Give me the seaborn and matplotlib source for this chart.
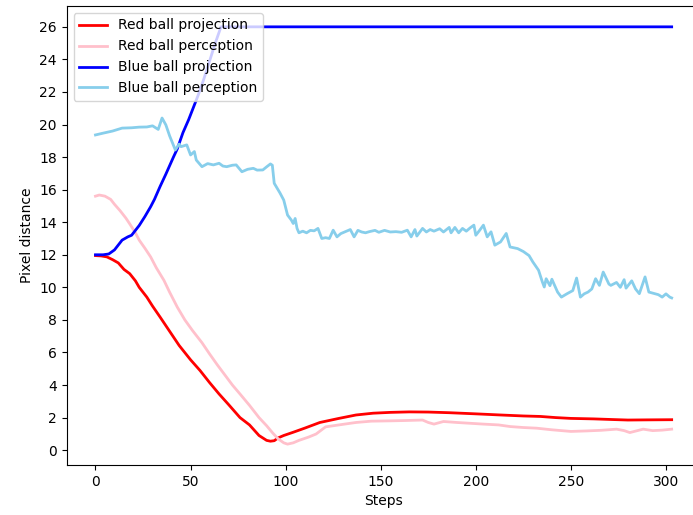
import matplotlib
matplotlib.use("Agg")
import matplotlib.pyplot as plt
import seaborn as sns
import pandas as pd

# Red ball projection
red_proj_steps = [0, 3, 6, 9, 12, 15, 18, 21, 23, 27, 30, 34, 39, 44, 50, 55, 60, 65, 70, 76, 81,
                  86, 90, 92, 94, 96, 99, 104, 110, 118, 128, 137, 146, 155, 165, 175, 186, 200,
                  213, 225, 234, 242, 250, 262, 272, 280, 290, 303]
red_proj_vals = [11.95, 11.93, 11.87, 11.7, 11.5, 11.1, 10.84, 10.4, 10.0, 9.4, 8.85, 8.17, 7.3, 6.43,
                 5.55, 4.89, 4.15, 3.45, 2.8, 2.0, 1.55, 0.9, 0.6, 0.55, 0.58, 0.75, 0.9, 1.1, 1.35,
                 1.7, 1.95, 2.16, 2.27, 2.32, 2.35, 2.34, 2.3, 2.23, 2.16, 2.1, 2.07, 2.0, 1.95,
                 1.92, 1.88, 1.85, 1.86, 1.87]

# Red ball perception
red_perc_steps = [0, 2, 5, 8, 10, 13, 16, 18, 21, 23, 26, 29, 32, 36, 39, 43, 47, 51, 56, 60, 64, 69,
                  72, 76, 81, 86, 90, 93, 96, 99, 101, 104, 107, 112, 116, 121, 128, 137, 145, 155,
                  163, 172, 175, 178, 183, 190, 197, 204, 212, 218, 225, 232, 240, 250, 258, 266,
                  274, 278, 281, 285, 288, 293, 298, 303]
red_perc_vals = [15.6, 15.67, 15.6, 15.4, 15.1, 14.7, 14.25, 13.9, 13.35, 12.9, 12.4, 11.87, 11.2,
                 10.43, 9.7, 8.79, 8.0, 7.35, 6.6, 5.91, 5.25, 4.47, 4.0, 3.45, 2.75, 2.0, 1.5, 1.08,
                 0.7, 0.45, 0.37, 0.45, 0.6, 0.8, 0.99, 1.43, 1.55, 1.7, 1.78, 1.8, 1.82, 1.85, 1.7,
                 1.6, 1.76, 1.7, 1.65, 1.6, 1.55, 1.45, 1.39, 1.35, 1.25, 1.15, 1.18, 1.22, 1.29,
                 1.2, 1.08, 1.2, 1.29, 1.2, 1.23, 1.29]

# Blue ball projection
blue_proj_steps = [0, 4, 7, 10, 14, 17, 19, 21, 23, 26, 29, 31, 34, 37, 41, 43, 46, 49, 51, 54, 57,
                   60, 63, 66, 303]
blue_proj_vals = [12.0, 12.0, 12.05, 12.3, 12.9, 13.1, 13.2, 13.5, 13.8, 14.35, 14.95, 15.4, 16.2,
                  16.95, 18.0, 18.5, 19.5, 20.3, 20.9, 21.8, 22.8, 23.9, 25.0, 26.0, 26.0]

# Blue ball perception
blue_perc_steps = [0, 4, 9, 14, 19, 23, 27, 30, 33, 35, 37, 39, 42, 44, 45, 48, 50, 52, 53, 56, 59,
                   62, 65, 67, 69, 72, 74, 77, 80, 83, 85, 88, 90, 92, 93, 94, 97, 99, 101, 103,
                   104, 105, 106, 107, 109, 111, 113, 115, 117, 119, 121, 123, 125, 127, 129, 131,
                   134, 136, 138, 140, 142, 144, 147, 149, 152, 155, 158, 161, 164, 166, 168, 169,
                   172, 174, 176, 178, 181, 183, 186, 187, 189, 191, 193, 195, 197, 199, 200, 202,
                   204, 206, 208, 210, 213, 216, 218, 222, 225, 228, 230, 233, 235, 236, 237, 239,
                   240, 243, 245, 248, 251, 253, 255, 257, 259, 261, 263, 265, 267, 270, 271, 274,
                   276, 278, 279, 282, 284, 286, 289, 291, 294, 296, 298, 300, 302, 303]
blue_perc_vals = [19.36, 19.47, 19.6, 19.78, 19.8, 19.84, 19.85, 19.92, 19.7, 20.4, 19.98, 19.3,
                  18.44, 18.8, 18.64, 18.75, 18.13, 18.34, 17.82, 17.41, 17.6, 17.52, 17.62, 17.45,
                  17.41, 17.5, 17.52, 17.1, 17.25, 17.31, 17.2, 17.21, 17.4, 17.58, 17.5, 16.39,
                  15.8, 15.36, 14.44, 14.13, 13.92, 14.23, 13.62, 13.35, 13.45, 13.35, 13.5, 13.47,
                  13.62, 13.0, 13.05, 13.0, 13.51, 13.1, 13.3, 13.4, 13.55, 13.1, 13.5, 13.4, 13.35,
                  13.42, 13.5, 13.38, 13.5, 13.4, 13.42, 13.38, 13.51, 13.1, 13.55, 13.15, 13.62,
                  13.4, 13.55, 13.45, 13.6, 13.4, 13.68, 13.35, 13.68, 13.35, 13.62, 13.45, 13.65,
                  13.82, 13.2, 13.5, 13.82, 13.1, 13.41, 12.59, 12.79, 13.31, 12.48, 12.38, 12.2,
                  11.95, 11.56, 11.05, 10.33, 10.02, 10.53, 10.1, 10.5, 9.71, 9.4, 9.61, 9.8, 10.57,
                  9.4, 9.6, 9.71, 9.9, 10.53, 10.12, 10.94, 10.2, 10.12, 10.3, 10.0, 10.47, 9.95,
                  10.4, 9.9, 9.61, 10.64, 9.71, 9.61, 9.55, 9.4, 9.6, 9.4, 9.35]

series = [
    ("Red ball projection", red_proj_steps, red_proj_vals, "red"),
    ("Red ball perception", red_perc_steps, red_perc_vals, "pink"),
    ("Blue ball projection", blue_proj_steps, blue_proj_vals, "blue"),
    ("Blue ball perception", blue_perc_steps, blue_perc_vals, "skyblue"),
]

fig = plt.figure(figsize=(6.93, 5.15), dpi=100)
ax = fig.add_axes([0.0962, 0.0971, 0.9146, 0.8913])

for name, xs, ys, col in series:
    df = pd.DataFrame({"Steps": xs, "val": ys})
    sns.lineplot(data=df, x="Steps", y="val", color=col, label=name, ax=ax,
                 estimator=None, sort=False, linewidth=2)

ax.set_xticks([0, 50, 100, 150, 200, 250, 300])
ax.set_yticks(list(range(0, 27, 2)))
ax.set_xlabel("Steps")
ax.set_ylabel("Pixel distance")
ax.legend(loc="upper left")

fig.savefig("out.png", dpi=100)
